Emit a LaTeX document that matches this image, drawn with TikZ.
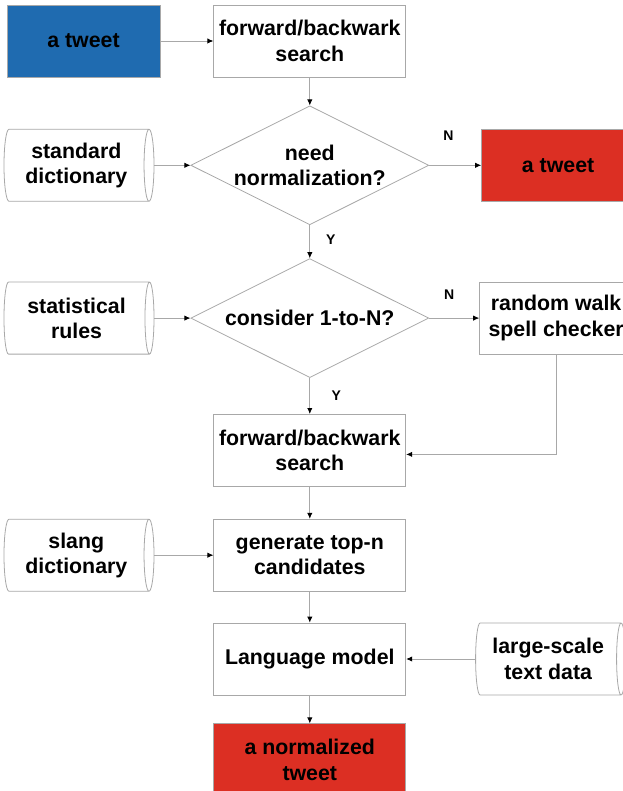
\documentclass[tikz,border=0pt]{standalone}
\usepackage{fontspec}
\setmainfont{Liberation Sans}
\usepackage{xcolor}
\usetikzlibrary{arrows.meta,positioning,shapes.geometric}

\definecolor{tweetblue}{HTML}{1F6BB0}
\definecolor{tweetred}{HTML}{DC2F23}
\definecolor{linegray}{HTML}{A8A8A8}

\begin{document}
\begin{tikzpicture}[>={Latex[color=black,length=4.5pt,width=4pt]},
 every node/.style={font=\fontsize{16}{19}\selectfont\bfseries},
 box/.style={draw=linegray,line width=0.6pt,minimum width=144pt,minimum height=54pt,align=center,inner sep=2pt},
 term/.style={box,minimum width=114.75pt},
 dec/.style={diamond,draw=linegray,line width=0.6pt,aspect=2,inner sep=0pt,minimum width=178.5pt,minimum height=89.25pt,align=center},
 store/.style={cylinder,shape border rotate=0,aspect=0.22,draw=linegray,line width=0.6pt,minimum height=112.5pt,minimum width=54pt,align=center,inner sep=0pt},
 arr/.style={->,draw=linegray,line width=0.6pt},
 lab/.style={font=\fontsize{10.5}{12}\selectfont\bfseries,inner sep=0pt}]
 \useasboundingbox (-62.625pt,30.75pt) rectangle (404.625pt,-562.5pt);
 % main column
 \node[term,fill=tweetblue] (tw) {a tweet};
 \node[box,right=39.75pt of tw] (fs1) {forward/backwark\\search};
 \node[dec,below=21pt of fs1] (need) {need\\normalization?};
 \node[dec,below=24.75pt of need] (cons) {consider 1-to-N?};
 \node[box,below=27pt of cons] (fs2) {forward/backwark\\search};
 \node[box,below=24pt of fs2] (gen) {generate top-n\\candidates};
 \node[box,below=23.25pt of gen] (lm) {Language model};
 \node[box,fill=tweetred,below=21pt of lm] (norm) {a normalized\\tweet};
 % side nodes
 \node[store,left=27pt of need] (stdd) {standard\\dictionary};
 \node[store,left=27pt of cons] (stat) {statistical\\rules};
 \node[store,left=44.25pt of gen] (slang) {slang\\dictionary};
 \node[term,fill=tweetred,right=39pt of need] (tw2) {a tweet};
 \node[term,right=37.5pt of cons] (rw) {random walk\\spell checker};
 \node[store,right=51.75pt of lm] (large) {large-scale\\text data};
 % connectors
 \draw[arr] (tw) -- (fs1);
 \draw[arr] (fs1) -- (need);
 \draw[arr] (stdd) -- (need);
 \draw[arr] (need) -- node[lab,pos=0.37,above=18pt]{N} (tw2);
 \draw[arr] (need) -- node[lab,pos=0.45,right=12pt]{Y} (cons);
 \draw[arr] (stat) -- (cons);
 \draw[arr] (cons) -- node[lab,pos=0.4,above=14pt]{N} (rw);
 \draw[arr] (cons) -- node[lab,pos=0.5,right=16pt]{Y} (fs2);
 \draw[arr] (rw.south) |- ([yshift=-3pt]fs2.east);
 \draw[arr] (fs2) -- (gen);
 \draw[arr] (slang) -- (gen);
 \draw[arr] (gen) -- (lm);
 \draw[arr] (large) -- (lm);
 \draw[arr] (lm) -- (norm);
\end{tikzpicture}
\end{document}
